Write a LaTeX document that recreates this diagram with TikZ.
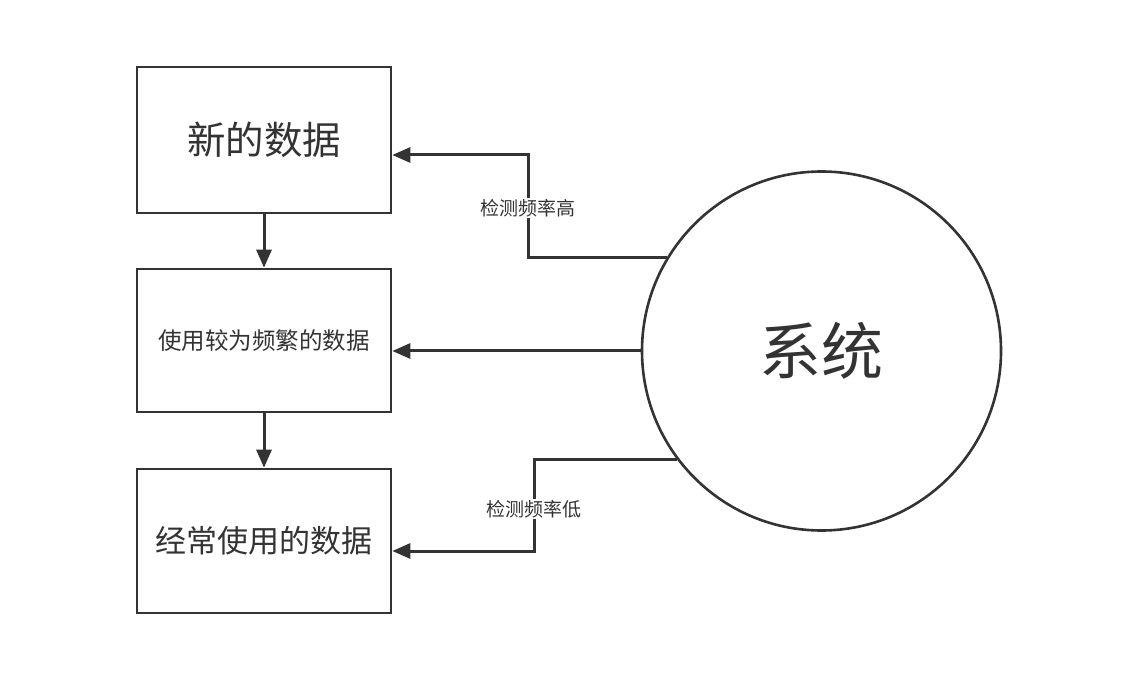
\documentclass[tikz,border=0pt]{standalone}
\usepackage{fontspec}
\newfontfamily\cjk{Noto Sans CJK SC}
\usetikzlibrary{arrows.meta,calc}
\definecolor{ink}{HTML}{333333}
\begin{document}
\begin{tikzpicture}[x=1pt,y=1pt,
  box/.style={draw=ink,line width=2.6pt,minimum width=254pt,inner sep=0pt,text=ink,font=\cjk},
  arr/.style={draw=ink,line width=3pt,-{Triangle[length=18pt,width=15pt]}},
  lbl/.style={fill=white,text=ink,font=\cjk\fontsize{19}{21}\selectfont,inner sep=1pt}]
\useasboundingbox (0,0) rectangle (1124,678);
\node[box,minimum height=146pt,font=\cjk\fontsize{38.5}{40}\selectfont] (b1) at (264,538) {新的数据};
\node[box,minimum height=143pt,font=\cjk\fontsize{23.5}{26}\selectfont] (b2) at (264,337.5) {使用较为频繁的数据};
\node[box,minimum height=144pt,font=\cjk\fontsize{31}{34}\selectfont] (b3) at (264,137) {经常使用的数据};
\node[draw=ink,line width=2.6pt,circle,minimum size=359pt,inner sep=0pt,text=ink,font=\cjk\fontsize{62}{66}\selectfont] (sys) at (821.5,327) {系统};
\draw[arr] (b1.south) -- (b2.north);
\draw[arr] (b2.south) -- (b3.north);
\coordinate (k1) at (528,470);
\coordinate (k2) at (534,169);
\draw[arr] (sys.149.5) -| (k1) |- ([yshift=-15pt]b1.east);
\draw[arr] (sys.west) -- (b2.east |- sys.west);
\draw[arr] (sys.217.4) -| (k2) |- ([yshift=-10pt]b3.east);
\node[lbl] (l1) at (k1) {检测频率高};
\node[lbl] (l2) at (k2) {检测频率低};
\end{tikzpicture}
\end{document}
